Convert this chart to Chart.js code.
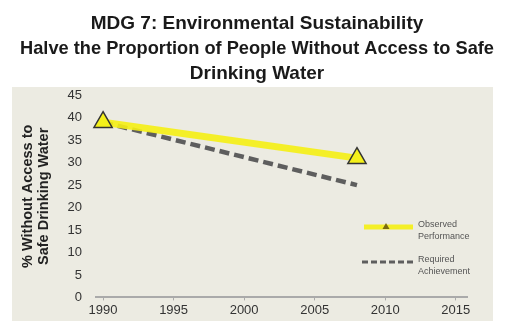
<!DOCTYPE html>
<html>
<head>
<meta charset="utf-8">
<script src="https://cdn.jsdelivr.net/npm/chart.js@4"></script>
<style>
  html, body { margin: 0; padding: 0; background: #fff; }
  #wrap { width: 507px; height: 321px; }
</style>
</head>
<body>
<div id="wrap"><canvas id="chart" width="507" height="321"></canvas></div>
<script>
const titleLines = [
  "MDG 7: Environmental Sustainability",
  "Halve the Proportion of People Without Access to Safe",
  "Drinking Water"
];
const yTitle = ["% Without Access to", "Safe Drinking Water"];
const years = [1990, 2008];
const observed = [39, 31];
const required = [39, 25];
const xTicks = [1990, 1995, 2000, 2005, 2010, 2015];
const legendLabels = [["Observed", "Performance"], ["Required", "Achievement"]];

const FONT = "'Liberation Sans', Arial, sans-serif";

// beige panel behind the plot
const panelBg = {
  id: "panelBg",
  beforeDraw(chart) {
    const ctx = chart.ctx;
    ctx.save();
    ctx.fillStyle = "#ecebe2";
    ctx.fillRect(12, 87, 481, 234);
    ctx.restore();
  }
};

// two-line legend at the lower right
const sideLegend = {
  id: "sideLegend",
  afterDraw(chart) {
    const ctx = chart.ctx;
    const ds = chart.data.datasets;
    ctx.save();
    ctx.lineCap = "butt";
    // observed
    ctx.strokeStyle = ds[0].borderColor;
    ctx.lineWidth = 5;
    ctx.beginPath();
    ctx.moveTo(364, 227);
    ctx.lineTo(413, 227);
    ctx.stroke();
    ctx.fillStyle = "#7a6a10";
    ctx.beginPath();
    ctx.moveTo(386, 223);
    ctx.lineTo(389.5, 229);
    ctx.lineTo(382.5, 229);
    ctx.closePath();
    ctx.fill();
    // required
    ctx.strokeStyle = ds[1].borderColor;
    ctx.lineWidth = 3;
    ctx.setLineDash([6, 3]);
    ctx.beginPath();
    ctx.moveTo(362, 262);
    ctx.lineTo(416, 262);
    ctx.stroke();
    ctx.setLineDash([]);
    ctx.fillStyle = "#555";
    ctx.font = "9px " + FONT;
    ctx.textBaseline = "middle";
    ctx.fillText(legendLabels[0][0], 418, 225);
    ctx.fillText(legendLabels[0][1], 418, 237);
    ctx.fillText(legendLabels[1][0], 418, 260);
    ctx.fillText(legendLabels[1][1], 418, 272);
    ctx.restore();
  }
};

new Chart(document.getElementById("chart"), {
  type: "line",
  data: {
    datasets: [
      {
        label: "Observed Performance",
        data: years.map((x, i) => ({ x, y: observed[i] })),
        borderColor: "rgba(245,240,20,0.9)",
        borderWidth: 7,
        pointStyle: "triangle",
        pointRadius: 10.5,
        pointBackgroundColor: "#f4f01a",
        pointBorderColor: "#333",
        pointBorderWidth: 1.5,
        clip: false,
        order: 0
      },
      {
        label: "Required Achievement",
        data: years.map((x, i) => ({ x, y: required[i] })),
        borderColor: "#5e5e5e",
        borderWidth: 4.5,
        borderDash: [10, 5],
        pointRadius: 0,
        clip: false,
        order: 1
      }
    ]
  },
  plugins: [panelBg, sideLegend],
  options: {
    responsive: false,
    animation: false,
    layout: { padding: { left: 20, right: 13, top: 0, bottom: 0 } },
    plugins: {
      legend: { display: false },
      tooltip: { enabled: false },
      title: {
        display: true,
        text: titleLines,
        color: "#1a1a1a",
        font: { family: FONT, size: 19, weight: "bold", lineHeight: 1.32 },
        padding: { top: 11, bottom: 9 }
      }
    },
    scales: {
      x: {
        type: "linear",
        min: 1989.5,
        max: 2015.8,
        afterBuildTicks: (s) => { s.ticks = xTicks.map((v) => ({ value: v })); },
        ticks: { color: "#333", font: { family: FONT, size: 13 }, padding: 2.5, callback: (v) => String(v) },
        grid: { drawOnChartArea: false, tickLength: 3, color: "#aaa" },
        border: { display: true, color: "#aaa", width: 2 }
      },
      y: {
        min: 0,
        max: 45,
        ticks: { stepSize: 5, color: "#333", font: { family: FONT, size: 13 }, padding: 6 },
        grid: { display: false },
        border: { display: false },
        title: {
          display: true,
          text: yTitle,
          color: "#222",
          font: { family: FONT, size: 14.5, weight: "bold", lineHeight: 1.1 },
          padding: { top: 0, bottom: 0 }
        },
        afterFit: (s) => { s.width = 76; }
      },
      y2: {
        type: "linear",
        position: "right",
        min: 0,
        max: 45,
        ticks: { display: false },
        grid: { display: false },
        border: { display: false },
        afterFit: (s) => { s.width = 27; }
      }
    }
  }
});
</script>
</body>
</html>
